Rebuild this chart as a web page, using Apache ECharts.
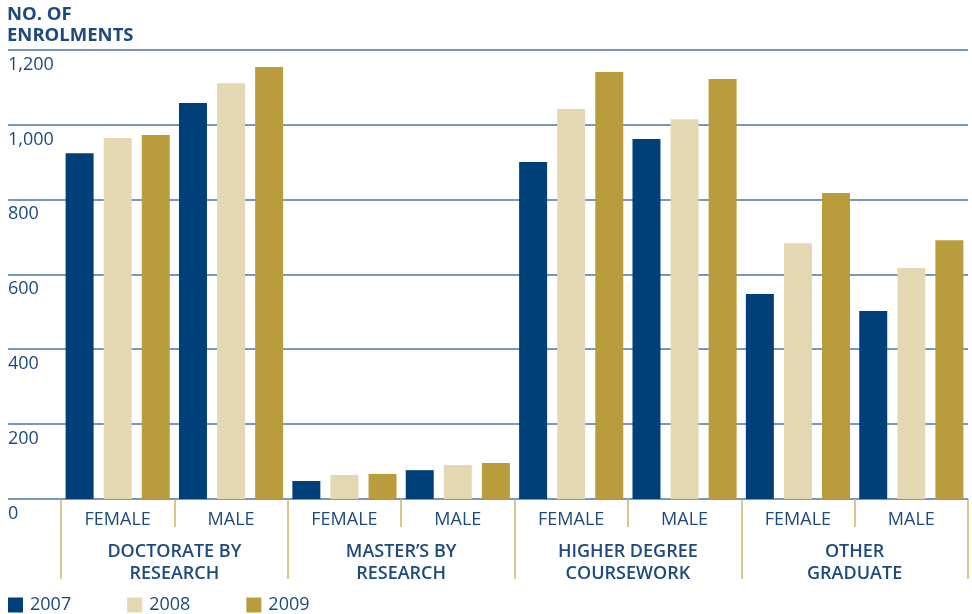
<!DOCTYPE html>
<html>
<head>
<meta charset="utf-8">
<script src="https://cdn.jsdelivr.net/npm/echarts@6/dist/echarts.min.js"></script>
<style>
  html, body { margin: 0; padding: 0; background: #ffffff; }
  #chart { width: 972px; height: 614px; }
</style>
</head>
<body>
<div id="chart"></div>
<script>
// Enrolments by gender within each program type, 2007–2009
const genders = ['FEMALE', 'MALE', 'FEMALE', 'MALE', 'FEMALE', 'MALE', 'FEMALE', 'MALE'];
const programs = ['DOCTORATE BY\nRESEARCH', 'MASTER\u2019S BY\nRESEARCH', 'HIGHER DEGREE\nCOURSEWORK', 'OTHER\nGRADUATE'];
const years = ['2007', '2008', '2009'];
const enrol2007 = [923, 1057, 48, 77, 900, 961, 547, 502];
const enrol2008 = [964, 1110, 64, 91, 1041, 1014, 683, 617];
const enrol2009 = [972, 1153, 67, 96, 1140, 1121, 817, 691];
const yTicks = { min: 0, max: 1200, interval: 200 };

const NAVY = '#00407a';
const BEIGE = '#e3d8b1';
const GOLD = '#b99c3b';
const TEXT = '#1d4a7e';
const RULE = '#c9b46e';
const FONT = '"Open Sans", "Noto Sans", sans-serif';

const chart = echarts.init(document.getElementById('chart'), null, { renderer: 'canvas' });

chart.setOption({
  animation: false,
  backgroundColor: '#ffffff',
  textStyle: { fontFamily: FONT },
  title: {
    text: 'NO. OF\nENROLMENTS',
    left: 7,
    top: 4,
    padding: 0,
    textStyle: { fontFamily: FONT, fontSize: 18.5, fontWeight: 'bold', color: TEXT, lineHeight: 21 }
  },
  legend: {
    data: years,
    left: 8,
    top: 596,
    padding: 0,
    itemWidth: 15,
    itemHeight: 15,
    itemGap: 56,
    icon: 'rect',
    textStyle: { fontFamily: FONT, fontSize: 18, color: TEXT, padding: [0, 0, 0, 2] }
  },
  grid: [
    // full-width grid carrying the value gridlines and their labels
    { left: 8, right: 4, top: 49.5, bottom: 115 },
    // bar area starting after the label column
    { left: 61, right: 4, top: 49.5, bottom: 115 }
  ],
  xAxis: [
    {
      gridIndex: 1, type: 'category', data: genders, position: 'bottom',
      axisLine: { show: false },
      axisTick: { show: true, interval: 0, length: 28, lineStyle: { color: RULE, width: 1.5 } },
      axisLabel: { interval: 0, margin: 12, color: TEXT, fontSize: 18, fontFamily: FONT }
    },
    {
      gridIndex: 1, type: 'category', data: programs, position: 'bottom',
      axisLine: { show: false },
      axisTick: { show: true, interval: 0, length: 80, lineStyle: { color: RULE, width: 1.5 } },
      axisLabel: { interval: 0, margin: 42, color: TEXT, fontSize: 18, fontWeight: 600, lineHeight: 22, fontFamily: FONT }
    },
    { gridIndex: 0, type: 'category', data: [''], show: false }
  ],
  yAxis: [
    {
      gridIndex: 0, type: 'value', min: yTicks.min, max: yTicks.max, interval: yTicks.interval,
      axisLine: { show: false }, axisTick: { show: false },
      splitLine: { show: true, lineStyle: { color: '#4a76a3', width: 1.6 } },
      axisLabel: {
        inside: true, margin: 0, align: 'left', verticalAlign: 'top',
        padding: [6, 0, 0, 0],
        color: TEXT, fontSize: 18, fontFamily: FONT,
        formatter: v => v.toLocaleString('en-US')
      }
    },
    {
      gridIndex: 1, type: 'value', min: yTicks.min, max: yTicks.max, interval: yTicks.interval,
      show: false, splitLine: { show: false }
    }
  ],
  series: [
    { name: years[0], type: 'bar', xAxisIndex: 0, yAxisIndex: 1, data: enrol2007, barWidth: 28, barGap: '36%', itemStyle: { color: NAVY } },
    { name: years[1], type: 'bar', xAxisIndex: 0, yAxisIndex: 1, data: enrol2008, barWidth: 28, barGap: '36%', itemStyle: { color: BEIGE } },
    { name: years[2], type: 'bar', xAxisIndex: 0, yAxisIndex: 1, data: enrol2009, barWidth: 28, barGap: '36%', itemStyle: { color: GOLD } }
  ]
});
</script>
</body>
</html>
